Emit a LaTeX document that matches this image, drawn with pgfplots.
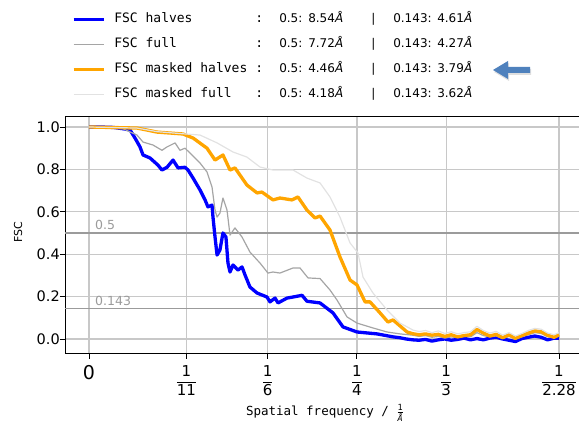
\documentclass[border=0pt]{standalone}
\usepackage{pgfplots}
\pgfplotsset{compat=1.18}
\usepackage{pgfplotstable}
\usepackage{amsmath}
\usepackage{fontspec}
\setmainfont{DejaVu Sans}
\setmonofont{DejaVu Sans Mono}
\usetikzlibrary{shadows}

\definecolor{fscblue}{RGB}{0,0,255}
\definecolor{fscorange}{RGB}{255,165,0}
\definecolor{fscgray}{RGB}{165,165,165}
\definecolor{fsclight}{RGB}{226,226,226}
\definecolor{arrowblue}{RGB}{79,129,189}
\definecolor{gridgray}{RGB}{200,200,200}
\definecolor{thrgray}{RGB}{155,155,155}

% FSC curves: spatial frequency (1/A) against correlation
\pgfplotstableread{
f y
0 1.0
0.0103 1.0
0.0224 0.998
0.0317 0.992
0.0383 0.986
0.0429 0.948
0.0476 0.906
0.0504 0.868
0.0569 0.854
0.0644 0.82
0.0681 0.797
0.0728 0.81
0.0784 0.844
0.0831 0.807
0.0896 0.81
0.0924 0.797
0.0971 0.759
0.1036 0.703
0.1083 0.656
0.1110 0.623
0.1148 0.632
0.1157 0.575
0.1176 0.481
0.1195 0.396
0.1222 0.42
0.1250 0.50
0.1278 0.481
0.1297 0.358
0.1316 0.316
0.1344 0.349
0.1390 0.325
0.1428 0.34
0.1456 0.302
0.1502 0.245
0.1568 0.217
0.1661 0.198
0.1689 0.175
0.1736 0.193
0.1764 0.17
0.1848 0.193
0.1904 0.198
0.1988 0.206
0.2034 0.178
0.2156 0.17
0.2277 0.123
0.2370 0.057
0.2501 0.033
0.2688 0.024
0.2837 0.01
0.290 0.006
0.296 0.0
0.302 -0.004
0.308 -0.006
0.314 -0.002
0.320 -0.01
0.326 -0.004
0.332 0.0
0.338 -0.006
0.344 -0.002
0.350 0.004
0.356 -0.004
0.362 0.002
0.368 -0.004
0.374 0.004
0.380 0.008
0.386 0.0
0.392 -0.006
0.398 -0.012
0.404 0.002
0.410 0.008
0.416 0.014
0.422 0.008
0.428 -0.004
0.434 0.004
0.4386 0.004
}\halves

\pgfplotstableread{
f y
0 1.0
0.0224 0.998
0.0317 0.992
0.0448 0.962
0.0504 0.929
0.0597 0.915
0.0681 0.89
0.0728 0.906
0.0803 0.925
0.0849 0.89
0.0896 0.90
0.0943 0.877
0.1036 0.83
0.1101 0.788
0.1148 0.717
0.1176 0.608
0.1195 0.575
0.1222 0.594
0.1250 0.665
0.1288 0.608
0.1316 0.49
0.1362 0.524
0.1428 0.481
0.1502 0.41
0.1596 0.358
0.1670 0.311
0.1717 0.316
0.1782 0.311
0.1904 0.335
0.1969 0.335
0.2044 0.288
0.2156 0.285
0.2249 0.231
0.2314 0.184
0.2408 0.104
0.2501 0.075
0.2650 0.052
0.2781 0.033
0.2902 0.024
0.302 0.018
0.308 0.012
0.314 0.016
0.320 0.008
0.326 0.012
0.332 0.004
0.338 0.01
0.344 0.006
0.350 0.012
0.356 0.01
0.362 0.03
0.368 0.016
0.374 0.01
0.380 0.014
0.386 0.002
0.392 0.012
0.398 0.0
0.404 0.01
0.410 0.02
0.416 0.03
0.422 0.026
0.428 0.01
0.434 0.008
0.4386 0.012
}\full

\pgfplotstableread{
f y
0 1.0
0.0448 0.995
0.0635 0.976
0.0877 0.967
0.0971 0.948
0.1101 0.90
0.1176 0.844
0.1250 0.868
0.1316 0.797
0.1362 0.807
0.1474 0.726
0.1568 0.689
0.1614 0.693
0.1717 0.656
0.1782 0.665
0.1894 0.656
0.1950 0.67
0.2034 0.608
0.2109 0.571
0.2156 0.58
0.2249 0.514
0.2342 0.387
0.2436 0.278
0.2501 0.255
0.2576 0.175
0.2622 0.175
0.2716 0.123
0.2790 0.08
0.2837 0.09
0.2968 0.033
0.302 0.025
0.308 0.02
0.314 0.024
0.320 0.018
0.326 0.022
0.332 0.012
0.338 0.02
0.344 0.01
0.350 0.016
0.356 0.02
0.362 0.045
0.368 0.028
0.374 0.014
0.380 0.022
0.386 0.006
0.392 0.02
0.398 0.003
0.404 0.016
0.410 0.028
0.416 0.038
0.422 0.034
0.428 0.018
0.434 0.008
0.4386 0.02
}\maskedhalves

\pgfplotstableread{
f y
0 1.0
0.0448 0.995
0.0635 0.978
0.0877 0.968
0.1036 0.962
0.1195 0.925
0.1344 0.882
0.1474 0.858
0.1596 0.811
0.1717 0.797
0.1904 0.797
0.2034 0.759
0.2156 0.736
0.2249 0.67
0.2342 0.575
0.2436 0.453
0.2510 0.406
0.2557 0.292
0.2650 0.217
0.2781 0.137
0.2902 0.075
0.3024 0.042
0.308 0.035
0.314 0.04
0.320 0.03
0.326 0.038
0.332 0.026
0.338 0.034
0.344 0.024
0.350 0.03
0.356 0.034
0.362 0.06
0.368 0.04
0.374 0.028
0.380 0.036
0.386 0.018
0.392 0.03
0.398 0.014
0.404 0.026
0.410 0.04
0.416 0.05
0.422 0.046
0.428 0.028
0.434 0.02
0.4386 0.03
}\maskedfull

\newcommand{\Ang}{{\itshape Å}}
\newcommand{\fscrow}[3]{%
  \makebox[141pt][l]{\fontsize{13}{15}\selectfont\ttfamily #1}%
  \makebox[24pt][l]{\fontsize{13}{15}\selectfont\ttfamily :}%
  \makebox[29pt][l]{0.5:}%
  \makebox[63pt][l]{#2\Ang}%
  \makebox[22pt][l]{|}%
  \makebox[44pt][l]{0.143:}%
  #3\Ang}

\begin{document}
\begin{tikzpicture}
\useasboundingbox (0pt,0pt) rectangle (579pt,427pt);
\begin{axis}[
  at={(65pt,73pt)}, anchor=south west,
  scale only axis, width=518pt, height=237pt,
  xmin=-0.0224, xmax=0.4610, ymin=-0.0708, ymax=1.0472,
  axis x line*=box, axis y line*=left,
  xtick={0,0.090909,0.166667,0.25,0.333333,0.438596},
  xticklabels={{\fontsize{19}{19}\selectfont 0},
    {$\dfrac{\mbox{1}}{\mbox{11}}$},
    {$\dfrac{\mbox{1}}{\mbox{6}}$},
    {$\dfrac{\mbox{1}}{\mbox{4}}$},
    {$\dfrac{\mbox{1}}{\mbox{3}}$},
    {$\dfrac{\mbox{1}}{\mbox{2.28}}$}},
  xticklabel style={font=\fontsize{15}{15}\selectfont, inner sep=0pt, anchor=north, yshift=-6pt},
  ytick={0,0.2,0.4,0.6,0.8,1.0},
  /pgf/number format/assume math mode=true,
  yticklabel style={font=\fontsize{14.5}{16}\selectfont, inner sep=0pt, anchor=east,
    /pgf/number format/fixed, /pgf/number format/fixed zerofill,
    /pgf/number format/precision=1},
  xtick pos=lower, ytick pos=left,
  tick align=outside, major tick length=5pt,
  tick style={black, line width=0.9pt},
  axis line style={black, line width=1pt},
  grid=major, major grid style={gridgray, line width=1.3pt},
  extra y ticks={0.5,0.143}, extra y tick labels={},
  extra y tick style={major tick length=0pt, major grid style={thrgray, line width=1.5pt}},
  xlabel={\fontsize{12.5}{14}\selectfont\ttfamily Spatial frequency /
    $\frac{\mbox{\fontsize{8.5}{9}\selectfont 1}}{\mbox{\fontsize{8.5}{9}\selectfont\itshape Å}}$},
  xlabel style={at={(axis description cs:0.502,-0.249)}, anchor=center, inner sep=0pt},
  ylabel={FSC},
  ylabel style={font=\fontsize{11}{12}\selectfont, at={(axis description cs:-0.0907,0.515)},
    anchor=center, inner sep=0pt},
  legend cell align=left,
  legend image code/.code={\draw[#1, line cap=butt] (0pt,0pt) -- (30pt,0pt);},
  legend style={draw=none, fill=none, at={(axis description cs:0.0135,1.44)},
    anchor=north west, inner sep=0pt, outer sep=0pt, row sep=12pt, column sep=9pt,
    font=\fontsize{12}{14}\selectfont,
    nodes={inner sep=0pt, text height=10pt, text depth=3pt}},
]
\addplot[fscblue, line width=3.3pt, line join=round] table[x=f, y=y] {\halves};
\addlegendentry{\fscrow{FSC halves}{8.54}{4.61}}
\addplot[fscgray, line width=1.2pt, line join=round] table[x=f, y=y] {\full};
\addlegendentry{\fscrow{FSC full}{7.72}{4.27}}
\addplot[fscorange, line width=3.3pt, line join=round] table[x=f, y=y] {\maskedhalves};
\addlegendentry{\fscrow{FSC masked halves}{4.46}{3.79}}
\addplot[fsclight, line width=1.2pt, line join=round] table[x=f, y=y] {\maskedfull};
\addlegendentry{\fscrow{FSC masked full}{4.18}{3.62}}

\node[anchor=south west, inner sep=0pt, text=thrgray, font=\fontsize{12.5}{14}\selectfont]
  at (axis cs:0.0056,0.515) {0.5};
\node[anchor=south west, inner sep=0pt, text=thrgray, font=\fontsize{12.5}{14}\selectfont]
  at (axis cs:0.0056,0.158) {0.143};
\end{axis}
% pointer to the masked-halves row
\fill[arrowblue, drop shadow={shadow xshift=1pt, shadow yshift=-2pt, opacity=0.25}]
  (530pt,360pt) -- (508pt,360pt) -- (508pt,366pt) -- (493pt,357pt)
  -- (508pt,348pt) -- (508pt,354pt) -- (530pt,354pt) -- cycle;
\end{tikzpicture}
\end{document}
